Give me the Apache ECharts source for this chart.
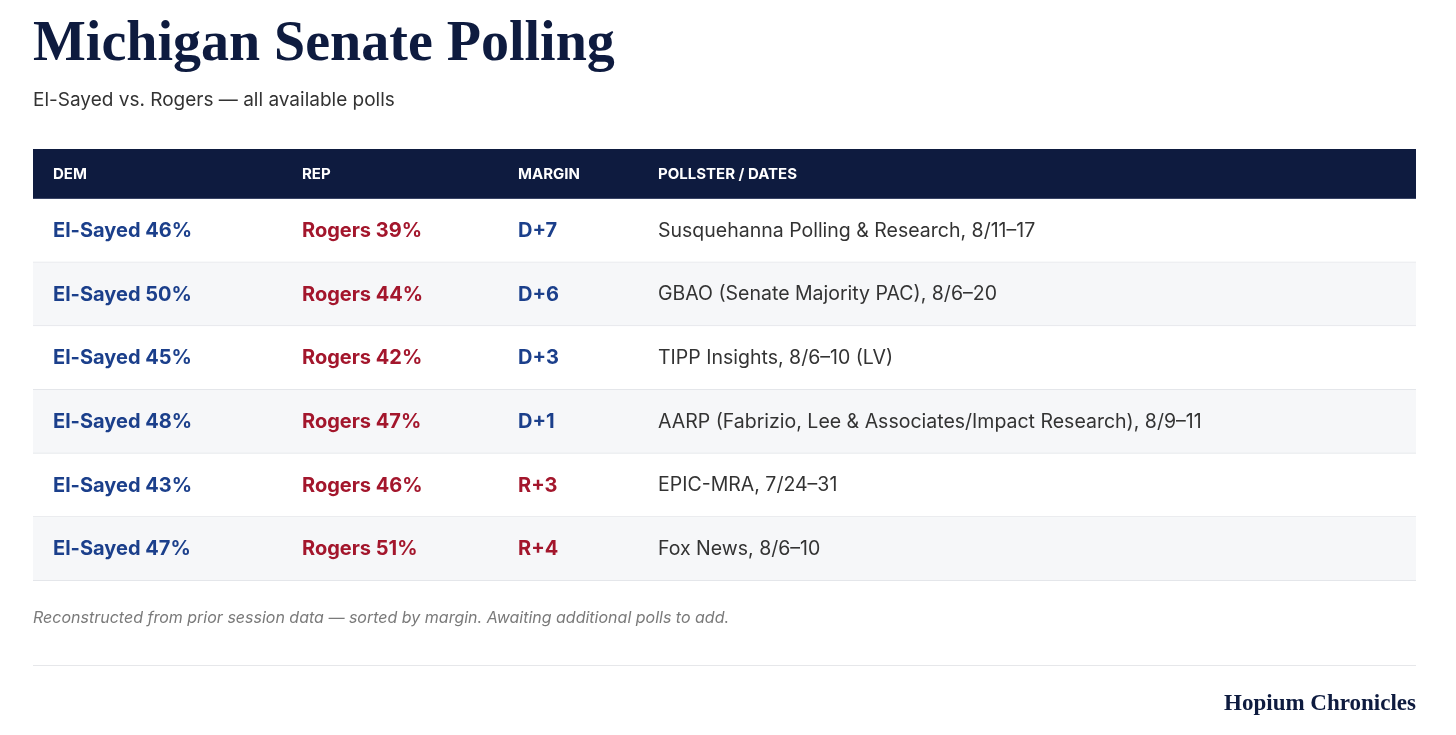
<!DOCTYPE html>
<html><head><meta charset="utf-8">
<script src="https://cdn.jsdelivr.net/npm/echarts@6/dist/echarts.min.js"></script>
<style>html,body{margin:0;padding:0;background:#fff}#c{width:1456px;height:735px}</style>
</head><body><div id="c"></div>
<script>
const headers = ['DEM', 'REP', 'MARGIN', 'POLLSTER / DATES'];
const demNames = ['El-Sayed', 'El-Sayed', 'El-Sayed', 'El-Sayed', 'El-Sayed', 'El-Sayed'];
const demPct = [46, 50, 45, 48, 43, 47];
const repNames = ['Rogers', 'Rogers', 'Rogers', 'Rogers', 'Rogers', 'Rogers'];
const repPct = [39, 44, 42, 47, 46, 51];
const margins = ['D+7', 'D+6', 'D+3', 'D+1', 'R+3', 'R+4'];
const pollsters = [
  'Susquehanna Polling & Research, 8/11\u201317',
  'GBAO (Senate Majority PAC), 8/6\u201320',
  'TIPP Insights, 8/6\u201310 (LV)',
  'AARP (Fabrizio, Lee & Associates/Impact Research), 8/9\u201311',
  'EPIC-MRA, 7/24\u201331',
  'Fox News, 8/6\u201310'
];

const NAVY = '#0e1b3f', BLUE = '#1b3f8b', RED = '#a3162c', GREY = '#333333';
const SANS = 'Inter, "Noto Sans", sans-serif';
const SERIF = '"Liberation Serif", "DejaVu Serif", serif';
const colX = [20, 269, 485, 625]; // column offsets along the x axis (px units)
const rowIdx = demPct.map((_, i) => i);

const chart = echarts.init(document.getElementById('c'), null, {renderer: 'canvas'});
chart.setOption({
  animation: false,
  backgroundColor: '#fff',
  title: [
    {text: 'Michigan Senate Polling', left: 33, top: 18, padding: 0,
     textStyle: {fontFamily: SERIF, fontWeight: 'bold', fontSize: 56, color: NAVY}},
    {text: 'El-Sayed vs. Rogers \u2014 all available polls', left: 33, top: 91, padding: 0,
     textStyle: {fontFamily: SANS, fontWeight: 'normal', fontSize: 19, color: '#333'}},
    {text: 'Reconstructed from prior session data \u2014 sorted by margin. Awaiting additional polls to add.', left: 33, top: 610, padding: 0,
     textStyle: {fontFamily: SANS, fontStyle: 'italic', fontWeight: 'normal', fontSize: 16, color: '#7a7a7a'}},
    {text: 'Hopium Chronicles', right: 40, top: 693, padding: 0,
     textStyle: {fontFamily: SERIF, fontWeight: 'bold', fontSize: 23, color: NAVY}}
  ],
  grid: {left: 33, right: 40, top: 199, bottom: 154},
  xAxis: {type: 'value', min: 0, max: 1383, show: false},
  yAxis: {type: 'category', data: rowIdx.map(String), inverse: true, show: false},
  graphic: [
    {type: 'rect', shape: {x: 33, y: 149, width: 1383, height: 50}, style: {fill: NAVY}},
    {type: 'rect', shape: {x: 33, y: 198, width: 1383, height: 1}, style: {fill: '#3a4566'}},
    ...headers.map((h, i) => ({
      type: 'text', x: 33 + colX[i], y: 174,
      style: {text: h, fill: '#fff', font: 'bold 15px ' + SANS, textVerticalAlign: 'middle'}
    })),
    {type: 'rect', shape: {x: 33, y: 665, width: 1383, height: 1}, style: {fill: '#e6e7ea'}}
  ],
  series: [{
    type: 'custom',
    data: rowIdx,
    renderItem: function (params, api) {
      const i = api.value(0);
      const p0 = api.coord([0, i]);
      const p1 = api.coord([1383, i]);
      const h = api.size([0, 1])[1];
      const top = p0[1] - h / 2;
      const cx = c => api.coord([colX[c], i])[0];
      const isD = margins[i][0] === 'D';
      const bold = 'bold 20px ' + SANS;
      return {
        type: 'group',
        children: [
          {type: 'rect', shape: {x: p0[0], y: top, width: p1[0] - p0[0], height: h},
           style: {fill: i % 2 ? '#f6f7f9' : '#ffffff'}},
          {type: 'rect', shape: {x: p0[0], y: top + h - 1, width: p1[0] - p0[0], height: 1},
           style: {fill: '#e4e6ea'}},
          {type: 'text', x: cx(0), y: p0[1],
           style: {text: demNames[i] + ' ' + demPct[i] + '%', fill: BLUE, font: bold, textVerticalAlign: 'middle'}},
          {type: 'text', x: cx(1), y: p0[1],
           style: {text: repNames[i] + ' ' + repPct[i] + '%', fill: RED, font: bold, textVerticalAlign: 'middle'}},
          {type: 'text', x: cx(2), y: p0[1],
           style: {text: margins[i], fill: isD ? BLUE : RED, font: bold, textVerticalAlign: 'middle'}},
          {type: 'text', x: cx(3), y: p0[1],
           style: {text: pollsters[i], fill: GREY, font: 'normal 19.5px ' + SANS, textVerticalAlign: 'middle'}}
        ]
      };
    }
  }]
});
</script></body></html>
